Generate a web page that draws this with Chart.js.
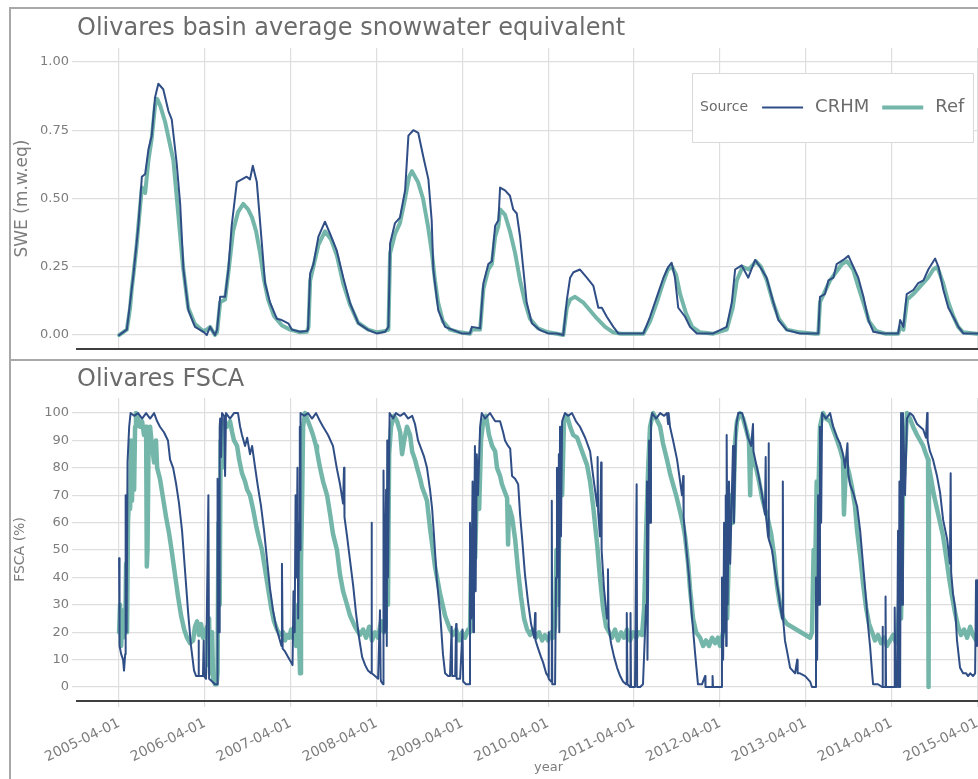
<!DOCTYPE html>
<html>
<head>
<meta charset="utf-8">
<title>Olivares SWE / FSCA</title>
<script src="https://cdn.jsdelivr.net/npm/chart.js@4.4.1/dist/chart.umd.min.js"></script>
<style>
  html,body{margin:0;padding:0;background:#fff;overflow:hidden;width:978px;height:779px;}
  .frame{position:absolute;border:2px solid #a8a8a8;box-sizing:border-box;}
  #f1{left:9px;top:7px;width:1030px;height:354px;}
  #f2{left:9px;top:359px;width:1030px;height:440px;}
  canvas{position:absolute;left:0;}
  #chartSWE{top:8px;}
  #chartFSCA{top:360px;}
</style>
</head>
<body>
<div class="frame" id="f1"></div>
<div class="frame" id="f2"></div>
<canvas id="chartSWE" width="1030" height="352"></canvas>
<canvas id="chartFSCA" width="1030" height="419"></canvas>
<script>
// all x values are days since START
const START = '2005-04-01';
const yearTicks = ['2005-04-01','2006-04-01','2007-04-01','2008-04-01','2009-04-01','2010-04-01',
                   '2011-04-01','2012-04-01','2013-04-01','2014-04-01','2015-04-01'];
const sweTicks = [0, 0.25, 0.5, 0.75, 1];
const fscaTicks = [0,10,20,30,40,50,60,70,80,90,100];
const sources = ['CRHM','Ref'];

// basin average SWE (m w.eq)
const sweCrhmDay = [0,33,47,61,75,82,97,111,125,139,153,167,188,210,224,245,260,274,295,323,359,373,387,408,
  417,430,451,465,479,501,522,543,557,569,586,607,621,642,671,692,720,735,770,799,
  804,813,827,848,876,898,926,954,983,1018,1061,1096,1132,
  1146,1153,1174,1195,1217,1231,1252,1273,1295,1316,1330,1337,1358,1387,1422,1458,1493,
  1501,1536,1550,1571,1586,1600,1614,1621,1642,1663,1677,1692,1706,1720,1734,1756,1791,1826,1862,
  1890,1905,1919,1933,1961,1990,2018,2039,2054,2075,2103,2124,2174,2231,
  2259,2288,2316,2337,2351,2365,2379,2408,2429,2458,2528,2585,
  2607,2621,2649,2677,2706,2727,2755,2777,2805,2841,2897,2961,
  2975,2982,3003,3018,3039,3053,3081,3103,3124,3145,3167,3188,3209,3252,3315,
  3323,3337,3351,3379,3400,3422,3443,3472,3486,3507,3528,3549,3571,3592,3649,3700];
const sweCrhm = [0,0.02,0.12,0.22,0.34,0.40,0.58,0.59,0.68,0.73,0.87,0.92,0.90,0.82,0.79,0.63,0.48,0.24,0.09,0.03,0.012,0,0.03,0,
  0.02,0.14,0.14,0.24,0.40,0.56,0.57,0.58,0.57,0.62,0.56,0.34,0.19,0.12,0.06,0.055,0.043,0.02,0.012,0.015,
  0.02,0.226,0.26,0.36,0.415,0.37,0.31,0.21,0.116,0.043,0.018,0.006,0.012,
  0.03,0.335,0.41,0.43,0.53,0.73,0.75,0.74,0.65,0.57,0.42,0.24,0.09,0.03,0.018,0.006,0.006,
  0.03,0.025,0.19,0.26,0.27,0.40,0.42,0.54,0.53,0.51,0.46,0.445,0.36,0.24,0.12,0.043,0.018,0.006,0.006,
  0,0.128,0.21,0.23,0.24,0.21,0.18,0.10,0.10,0.067,0.03,0.006,0.006,0.006,
  0.067,0.14,0.21,0.25,0.265,0.21,0.10,0.067,0.03,0.006,0.006,0.03,
  0.12,0.24,0.255,0.21,0.275,0.25,0.21,0.14,0.055,0.018,0.006,0.006,
  0.006,0.14,0.15,0.20,0.21,0.26,0.275,0.29,0.25,0.21,0.14,0.055,0.012,0.006,0.006,
  0.055,0.03,0.15,0.165,0.19,0.20,0.24,0.28,0.25,0.165,0.10,0.067,0.03,0.006,0.006,0.006];
const sweRefDay = [0,33,47,54,61,75,82,97,111,125,139,153,162,175,196,231,251,272,294,323,357,374,387,408,
  417,430,451,468,485,506,528,549,566,583,600,617,634,659,693,727,770,799,
  806,813,848,876,902,927,953,983,1017,1060,1098,1132,
  1146,1153,1174,1195,1217,1234,1246,1272,1293,1314,1331,1344,1357,1378,1408,1451,1493,
  1501,1536,1550,1571,1586,1600,1614,1621,1642,1663,1685,1706,1727,1748,1782,1825,1862,
  1890,1905,1919,1940,1974,2004,2034,2068,2102,2136,2231,
  2259,2288,2314,2335,2353,2370,2387,2412,2438,2472,2528,2585,
  2611,2628,2653,2679,2710,2731,2756,2782,2807,2841,2897,2961,
  2975,2982,3003,3025,3050,3076,3097,3123,3144,3170,3191,3221,3259,3315,
  3323,3337,3353,3379,3400,3421,3442,3464,3481,3506,3528,3549,3570,3591,3649,3700];
const sweRef = [0,0.02,0.10,0.17,0.22,0.33,0.40,0.54,0.52,0.64,0.72,0.84,0.865,0.84,0.78,0.64,0.45,0.25,0.10,0.04,0.015,0.02,0.03,0,
  0.01,0.12,0.13,0.25,0.38,0.45,0.48,0.46,0.43,0.38,0.30,0.20,0.13,0.07,0.035,0.02,0.01,0.012,
  0.03,0.20,0.33,0.38,0.35,0.29,0.19,0.11,0.045,0.02,0.01,0.015,
  0.02,0.30,0.37,0.41,0.50,0.58,0.60,0.56,0.50,0.40,0.30,0.20,0.12,0.05,0.02,0.01,0.005,
  0.02,0.02,0.17,0.24,0.26,0.36,0.40,0.46,0.44,0.38,0.30,0.20,0.12,0.06,0.025,0.01,0.005,
  0,0.10,0.13,0.14,0.12,0.09,0.06,0.03,0.01,0.005,0.005,
  0.05,0.12,0.19,0.24,0.25,0.22,0.15,0.08,0.03,0.01,0.005,0.02,
  0.10,0.20,0.25,0.24,0.27,0.25,0.20,0.12,0.06,0.02,0.01,0.005,
  0.005,0.12,0.16,0.20,0.23,0.26,0.27,0.24,0.18,0.11,0.05,0.015,0.005,0.005,
  0.03,0.02,0.13,0.15,0.17,0.19,0.21,0.24,0.25,0.19,0.12,0.07,0.03,0.01,0.005,0.005];

// fractional snow covered area (%)
const fscaCrhmDay = [0,2,9,17,21,26,28,32,36,43,49,64,81,98,115,132,149,162,174,191,208,217,230,243,255,268,281,294,306,319,328,336,338,340,357,360,362,370,374,380,383,396,408,413,
  417,419,423,426,428,430,434,438,447,451,455,472,489,506,515,523,536,545,557,566,579,591,604,617,630,642,655,668,681,691,693,696,706,719,732,738,
  742,747,751,755,759,762,766,769,770,772,787,804,821,838,855,868,889,910,926,940,953,957,959,970,983,996,1008,1021,1034,1047,1059,1072,1074,1076,1089,1102,1110,1113,1115,1123,
  1125,1130,1136,1139,1141,1144,1151,1166,1178,1196,1213,1230,1247,1259,1272,1285,1298,1310,1323,1332,1340,1352,1366,1378,1387,1400,1408,1415,1417,1430,1434,1436,1451,1461,1464,1476,1489,
  1493,1498,1504,1507,1510,1514,1517,1522,1527,1536,1543,1557,1578,1600,1621,1634,1642,1655,1664,1672,1685,1698,1706,1715,1727,1740,1753,1766,1770,1772,1783,1795,1804,1817,1825,1827,1829,1838,1841,1843,1855,
  1859,1863,1868,1871,1873,1876,1880,1885,1897,1910,1927,1944,1961,1983,2004,2017,2034,2036,2038,2046,2051,2053,2063,2076,2080,2083,2093,2106,2119,2132,2144,2157,2160,2163,2174,2176,2178,2195,2202,2204,2217,2229,
  2242,2246,2248,2251,2255,2259,2263,2268,2285,2302,2319,2331,2336,2338,2344,2357,2374,2387,2395,2400,2402,2412,2425,2438,2451,2463,2480,2493,2495,2523,2525,2527,2548,2561,
  2565,2570,2574,2578,2581,2583,2585,2589,2595,2600,2612,2616,2625,2634,2651,2663,2676,2689,2697,2699,2719,2734,2748,2751,2753,2761,2763,2765,2778,2791,2804,2821,2824,2826,2833,2842,2855,2876,2885,2887,2897,2919,2940,2948,2961,
  2965,2970,2974,2978,2982,2987,2991,3008,3025,3038,3055,3067,3080,3089,3099,3102,3110,3123,3140,3153,3165,3178,3187,3195,3204,3208,3229,3246,3248,3250,3259,3261,3263,3280,3297,3300,3303,3310,
  3314,3317,3320,3323,3327,3331,3335,3344,3352,3365,3378,3395,3408,3421,3433,3438,3440,3450,3463,3480,3493,3506,3523,3535,3538,3540,3548,3557,3565,3578,3591,3604,3612,3621,3633,3642,3646,3650,3659,3672];
const fscaCrhm = [47,15,12,10,6,12,70,20,82,95,100,99,100,98,100,98,100,97,95,93,90,83,80,74,67,57,42,27,15,6,4,4,17,4,4,17,4,3,3,70,3,2,1,1,
  1,76,60,20,95,98,84,100,99,77,100,98,100,100,95,92,88,91,85,88,80,73,66,57,46,36,28,22,18,15,45,14,13,11,9,8,
  35,20,70,40,80,25,60,95,50,100,99,100,98,100,97,95,92,88,80,74,67,80,62,55,46,37,27,18,11,8,6,5,60,5,4,3,28,3,2,1,
  79,20,72,15,90,40,100,98,100,99,100,98,99,96,90,87,84,80,72,65,55,39,27,12,5,4,4,22,4,4,23,3,3,21,2,1,1,
  60,25,75,20,45,88,35,85,70,95,100,98,100,97,97,93,90,88,87,77,76,74,63,54,41,31,23,18,27,17,14,11,9,5,4,20,3,2,68,1,1,
  40,80,40,85,20,95,55,97,100,99,100,97,95,91,86,77,66,84,64,55,82,50,36,25,43,22,16,11,7,4,2,1,27,1,0,27,0,0,74,0,0,1,
  30,75,10,40,90,60,97,100,98,100,99,100,96,100,95,90,83,75,70,77,62,52,40,25,12,1,1,4,0,0,4,0,0,0,
  40,10,60,20,70,15,92,30,75,45,88,60,95,100,100,96,91,88,96,86,78,71,63,84,62,55,89,54,50,42,35,25,75,24,17,13,7,5,10,5,5,4,2,0,0,
  40,10,70,30,95,60,100,98,100,95,91,89,85,80,89,78,74,71,66,57,45,32,22,15,5,1,1,0,22,0,0,33,0,0,0,29,0,0,
  57,0,75,0,100,30,100,70,98,100,99,96,95,94,91,100,90,86,83,77,71,61,54,45,78,42,34,29,17,7,5,5,4,5,4,5,39,15,42,40];
const fscaRefDay = [0,4,9,13,17,21,26,30,34,38,43,47,51,55,60,64,68,72,81,89,98,106,115,118,121,126,132,140,149,157,162,174,187,200,213,225,238,251,264,277,289,302,315,323,332,340,349,357,366,374,379,383,387,396,400,408,415,
  419,423,428,432,438,447,459,472,481,489,502,511,523,536,545,557,570,583,596,608,621,634,647,659,672,685,698,706,715,723,732,738,
  745,753,762,770,774,779,783,791,804,817,825,838,842,855,868,885,898,910,927,940,953,970,983,1004,1025,1038,1051,1064,1076,1089,1102,1115,1127,1134,
  1140,1144,1149,1157,1170,1183,1196,1204,1213,1225,1238,1247,1259,1268,1281,1289,1302,1310,1323,1332,1344,1366,1387,1408,1421,1434,1447,1459,1472,1485,1493,
  1498,1502,1510,1515,1523,1532,1540,1549,1561,1574,1587,1600,1608,1621,1629,1642,1651,1655,1659,1672,1685,1698,1710,1723,1736,1749,1761,1774,1787,1800,1812,1825,1838,1846,1855,
  1861,1868,1876,1885,1893,1906,1919,1932,1949,1970,1991,2004,2017,2034,2046,2059,2072,2085,2097,2110,2123,2136,2148,2161,2174,2187,2200,2212,2225,2234,2242,2251,2259,2272,
  2285,2302,2314,2331,2344,2357,2370,2387,2400,2408,2421,2429,2442,2455,2472,2485,2497,2510,2523,2536,2548,2557,2563,
  2570,2578,2587,2595,2604,2612,2621,2629,2642,2655,2668,2680,2685,2689,2697,2710,2723,2736,2748,2761,2774,2787,2799,2812,2825,2842,2940,2948,
  2955,2961,2968,2974,2982,2995,3008,3025,3038,3055,3067,3080,3084,3093,3106,3118,3131,3140,3153,3165,3178,3191,3204,3216,3229,3242,3255,3267,3280,3293,3306,3314,
  3323,3327,3335,3344,3352,3365,3378,3395,3408,3421,3433,3442,3444,3446,3455,3467,3480,3493,3506,3518,3531,3544,3557,3570,3582,3595,3608,3621,3633,3646,3659,3672];
const fscaRef = [20,30,15,28,18,25,20,45,20,60,70,65,90,68,88,72,95,100,98,95,97,92,95,44,50,93,95,88,82,90,80,76,69,62,56,49,41,33,26,21,18,16,17,22,24,19,23,18,20,22,8,25,5,20,3,1,1,
  5,60,30,90,80,97,95,97,93,90,88,83,78,75,72,70,65,59,54,50,43,36,29,24,21,19,20,17,19,18,21,18,
  22,15,30,5,45,70,95,100,97,94,92,88,86,80,75,70,63,56,50,41,35,30,26,22,19,21,18,22,17,20,18,24,20,22,
  60,30,85,95,99,97,93,85,90,95,92,86,83,80,76,73,70,68,58,52,44,34,26,21,19,21,17,20,18,21,20,
  45,30,60,47,75,65,90,97,99,92,88,86,80,77,74,71,69,52,66,62,54,42,33,25,21,19,21,18,20,17,19,17,20,18,22,
  50,30,78,70,97,99,95,92,91,86,81,75,66,52,40,29,22,20,18,21,17,20,18,21,17,20,18,20,19,29,55,80,95,100,
  98,95,89,83,78,74,70,64,59,55,45,36,25,20,18,15,17,15,18,16,18,15,17,
  20,35,25,50,70,60,90,97,100,98,94,90,70,88,83,80,75,69,65,61,56,48,37,30,25,23,18,20,
  50,40,75,65,95,100,98,97,94,90,87,83,63,82,78,73,66,57,48,38,29,23,20,17,19,16,18,15,17,19,16,20,
  40,25,70,85,100,98,95,92,90,88,85,83,0,80,76,70,65,60,55,48,40,33,27,22,19,21,18,22,19,17,21,20];

const FONT = '"DejaVu Sans", "Liberation Sans", sans-serif';
const TXT = '#7d7d7d';
const GRID = '#dedede';
const CRHM_COLOR = '#304e86';
const REF_COLOR = 'rgba(104,176,162,0.92)';
const X_MIN = -179, X_MAX = 3833;

const dayOf = s => Math.round((Date.parse(s) - Date.parse(START)) / 864e5);
const pts = (days, vals) => days.map((d, i) => ({x: d, y: vals[i]}));

// panel heading, left aligned with the plot area
const panelTitle = {
  id: 'panelTitle',
  afterDraw(chart, args, opts){
    const {ctx, chartArea} = chart;
    ctx.save();
    ctx.font = '24px ' + FONT;
    ctx.fillStyle = '#6b6b6b';
    ctx.textBaseline = 'alphabetic';
    ctx.fillText(opts.text, chartArea.left, opts.y);
    ctx.restore();
  }
};

// boxed "Source" legend drawn inside the plot
const sourceLegend = {
  id: 'sourceLegend',
  afterDraw(chart, args, opts){
    if(!opts.show) return;
    const {ctx} = chart;
    const {x, y, w, h} = opts;
    const my = y + h / 2;
    ctx.save();
    ctx.fillStyle = '#fff';
    ctx.fillRect(x, y, w, h);
    ctx.strokeStyle = '#d9d9d9';
    ctx.lineWidth = 1;
    ctx.strokeRect(x + 0.5, y + 0.5, w, h);
    ctx.textBaseline = 'middle';
    ctx.fillStyle = '#6b6b6b';
    ctx.font = '14px ' + FONT;
    ctx.fillText('Source', x + 8, my);
    let cx = x + 8 + ctx.measureText('Source').width + 14;
    ctx.font = '18px ' + FONT;
    chart.data.datasets.forEach(ds => {
      ctx.strokeStyle = ds.borderColor;
      ctx.lineWidth = ds.borderWidth;
      ctx.beginPath();
      ctx.moveTo(cx, my);
      ctx.lineTo(cx + 41, my);
      ctx.stroke();
      cx += 53;
      ctx.fillStyle = '#6b6b6b';
      ctx.fillText(ds.label, cx, my);
      cx += ctx.measureText(ds.label).width + 13;
    });
    ctx.restore();
  }
};

function makeChart(id, o){
  return new Chart(document.getElementById(id), {
    type: 'line',
    data: {datasets: [
      {label: sources[0], data: pts(o.crhmDay, o.crhm), borderColor: CRHM_COLOR, borderWidth: 2},
      {label: sources[1], data: pts(o.refDay, o.ref), borderColor: REF_COLOR, borderWidth: o.refWidth}
    ]},
    options: {
      responsive: false, animation: false, devicePixelRatio: 1,
      parsing: false, normalized: true,
      elements: {point: {radius: 0}, line: {tension: 0, borderJoinStyle: 'round', borderCapStyle: 'round'}},
      layout: {padding: {top: o.top, right: 10, left: 0, bottom: 0}},
      plugins: {
        legend: {display: false},
        tooltip: {enabled: false},
        panelTitle: {text: o.title, y: o.titleY},
        sourceLegend: {show: o.legend, x: 692, y: 65, w: 281, h: 69}
      },
      scales: {
        x: {
          type: 'linear', min: X_MIN, max: X_MAX,
          afterBuildTicks: s => { s.ticks = yearTicks.map(t => ({value: dayOf(t)})); },
          afterFit: s => { s.height = o.xHeight; },
          grid: {color: GRID, lineWidth: 1.2, drawTicks: o.xLabels, tickLength: 6, tickColor: GRID},
          border: {display: true, color: '#3f3f3f', width: 2},
          ticks: {display: o.xLabels, autoSkip: false, minRotation: 26, maxRotation: 26, padding: 8,
                  color: TXT, font: {family: FONT, size: 14},
                  callback: (v, i) => yearTicks[i]},
          title: {display: o.xLabels, text: 'year', color: TXT, font: {family: FONT, size: 13}, padding: {top: 0, bottom: 4}}
        },
        y: {
          min: o.yMin, max: o.yMax,
          afterBuildTicks: s => { s.ticks = o.ticks.map(v => ({value: v})); },
          afterFit: s => { s.width = 77; },
          grid: {color: GRID, lineWidth: 1.2, tickLength: 5, tickColor: GRID},
          border: {display: false},
          ticks: {color: TXT, padding: 3, font: {family: FONT, size: 13}, callback: o.fmt},
          title: {display: true, text: o.yTitle, color: TXT, font: {family: FONT, size: o.yTitleSize}, padding: {top: 12, bottom: 0}}
        }
      }
    },
    plugins: [panelTitle, sourceLegend]
  });
}

makeChart('chartSWE', {
  title: 'Olivares basin average snowwater equivalent', titleY: 27, top: 40,
  crhmDay: sweCrhmDay, crhm: sweCrhm, refDay: sweRefDay, ref: sweRef, refWidth: 4,
  yMin: -0.051, yMax: 1.051, ticks: sweTicks, fmt: v => v.toFixed(2),
  yTitle: 'SWE (m.w.eq)', yTitleSize: 17,
  xLabels: false, xHeight: 11, legend: true
});

makeChart('chartFSCA', {
  title: 'Olivares FSCA', titleY: 26, top: 38,
  crhmDay: fscaCrhmDay, crhm: fscaCrhm, refDay: fscaRefDay, ref: fscaRef, refWidth: 4.5,
  yMin: -5.1, yMax: 105.5, ticks: fscaTicks, fmt: v => String(v),
  yTitle: 'FSCA (%)', yTitleSize: 14,
  xLabels: true, xHeight: 78, legend: false
});
</script>
</body>
</html>
